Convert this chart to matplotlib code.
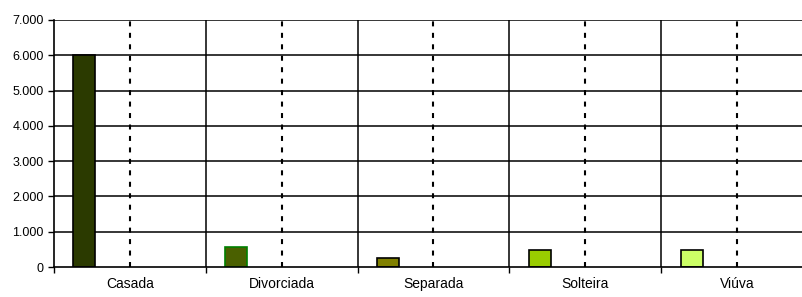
import matplotlib
matplotlib.use("Agg")
import matplotlib.pyplot as plt
from matplotlib.ticker import FixedLocator, FuncFormatter

categories = ["Casada", "Divorciada", "Separada", "Solteira", "Viúva"]
values = [6000, 558, 264, 490, 490]
bar_colors = ["#2b3a00", "#4a6000", "#808000", "#99cc00", "#ccff66"]
edge_colors = ["#000000", "#008000", "#000000", "#000000", "#000000"]
yticks = [0, 1000, 2000, 3000, 4000, 5000, 6000, 7000]

plt.rcParams['font.family'] = ['Liberation Sans', 'DejaVu Sans']

fig = plt.figure(figsize=(8.03, 2.97), dpi=100)
W, H = 803, 297
left, right, bottom, top = 54, 813, 267, 20
ax = fig.add_axes([left / W, 1 - bottom / H, (right - left) / W, (bottom - top) / H])

x = list(range(len(categories)))
xb = [i - 0.30 for i in x]
ax.bar(xb, values, width=0.145, color=bar_colors, edgecolor=edge_colors,
       linewidth=1.2, zorder=3)

ax.set_xlim(-0.5, len(categories) - 0.5)
ax.set_ylim(0, 7000)

# horizontal gridlines
for v in yticks[1:]:
    ax.axhline(v, color="black", lw=1.1, zorder=1)
# solid vertical lines at category boundaries
for b in range(1, len(categories) + 1):
    ax.axvline(b - 0.5, color="black", lw=1.1, zorder=1)
# dashed lines at category centers
for i in x:
    ax.axvline(i, color="black", lw=1.5, linestyle=(0, (2.4, 3.1)), zorder=1)

ax.set_yticks(yticks)
ax.yaxis.set_major_formatter(FuncFormatter(lambda v, p: f"{int(v):,}".replace(",", ".")))
ax.tick_params(axis="y", length=4.5, width=1, pad=3, labelsize=9, colors="black")

ax.xaxis.set_major_locator(FixedLocator([i - 0.5 for i in range(len(categories) + 1)]))
ax.xaxis.set_major_formatter(FuncFormatter(lambda v, p: ""))
ax.xaxis.set_minor_locator(FixedLocator(x))
ax.set_xticklabels(categories, minor=True)
ax.tick_params(axis="x", which="major", length=4, width=1, direction="out")
ax.tick_params(axis="x", which="minor", length=0, pad=7, labelsize=10)

for s in ["top", "right"]:
    ax.spines[s].set_visible(False)
ax.spines["left"].set_linewidth(1.2)
ax.spines["bottom"].set_linewidth(1.2)
ax.spines["left"].set_zorder(4)
ax.spines["bottom"].set_zorder(4)

fig.savefig("out.png", dpi=100)
